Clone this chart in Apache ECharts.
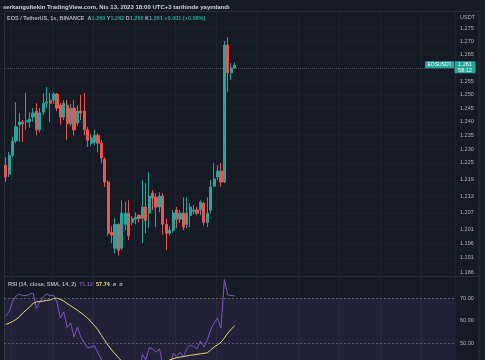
<!DOCTYPE html>
<html><head><meta charset="utf-8">
<script src="https://cdn.jsdelivr.net/npm/echarts@6/dist/echarts.min.js"></script>
<style>html,body{margin:0;padding:0;background:#161a25;}#c{width:485px;height:360px;}</style>
</head><body><div id="c"></div>
<script>
// ---- data ----
const OPEN = [1.2242,1.2210,1.2278,1.2330,1.2389,1.2400,1.2400,1.2400,1.2418,1.2440,1.2371,1.2436,1.2469,1.2480,1.2480,1.2503,1.2462,1.2418,1.2462,1.2393,1.2451,1.2396,1.2440,1.2440,1.2371,1.2322,1.2326,1.2351,1.2322,1.2264,1.2181,1.2000,1.1944,1.2029,1.1944,1.2029,1.2069,1.2036,1.2047,1.2061,1.2050,1.2091,1.2069,1.2141,1.2126,1.2091,1.2130,1.2029,1.1997,1.2008,1.2080,1.2047,1.2069,1.2029,1.2061,1.2076,1.2080,1.2080,1.2105,1.2036,1.2080,1.2166,1.2199,1.2220,1.2181,1.2686,1.2582,1.2600];
const CLOSE = [1.2199,1.2278,1.2330,1.2382,1.2400,1.2393,1.2404,1.2411,1.2433,1.2371,1.2433,1.2469,1.2473,1.2469,1.2503,1.2451,1.2418,1.2469,1.2393,1.2451,1.2371,1.2440,1.2433,1.2371,1.2333,1.2341,1.2351,1.2322,1.2268,1.2181,1.1997,1.1991,1.2029,1.1937,1.2069,1.2069,1.1988,1.2050,1.2054,1.2050,1.2091,1.2043,1.2130,1.2123,1.2091,1.2130,1.2029,1.1997,1.2008,1.2069,1.2047,1.2069,1.2019,1.2069,1.2091,1.2080,1.2069,1.2108,1.2036,1.2069,1.2163,1.2192,1.2220,1.2181,1.2686,1.2582,1.2600,1.2610];
const HIGH = [1.2271,1.2289,1.2344,1.2473,1.2433,1.2407,1.2507,1.2436,1.2451,1.2469,1.2451,1.2507,1.2529,1.2507,1.2510,1.2507,1.2469,1.2480,1.2480,1.2466,1.2480,1.2462,1.2500,1.2507,1.2382,1.2355,1.2371,1.2359,1.2333,1.2271,1.2188,1.2022,1.2050,1.2033,1.2115,1.2109,1.2115,1.2058,1.2072,1.2065,1.2188,1.2177,1.2216,1.2152,1.2141,1.2144,1.2141,1.2050,1.2022,1.2080,1.2091,1.2080,1.2126,1.2126,1.2105,1.2098,1.2091,1.2115,1.2109,1.2126,1.2188,1.2249,1.2242,1.2249,1.2701,1.2715,1.2618,1.2620];
const LOW = [1.2181,1.2199,1.2271,1.2322,1.2326,1.2326,1.2371,1.2378,1.2400,1.2351,1.2362,1.2425,1.2451,1.2400,1.2466,1.2440,1.2389,1.2407,1.2333,1.2385,1.2351,1.2385,1.2407,1.2351,1.2308,1.2311,1.2315,1.2289,1.2249,1.2163,1.1988,1.1962,1.1926,1.1918,1.1937,1.2008,1.1973,1.2025,1.2029,1.2036,1.1962,1.1997,1.2015,1.2080,1.2019,1.2072,1.1991,1.1937,1.1988,1.2000,1.2015,1.2033,1.2008,1.2015,1.2019,1.2065,1.2061,1.2061,1.2025,1.2019,1.2069,1.2163,1.2188,1.2163,1.2177,1.2510,1.2556,1.2600];
const RSI = [62,64,68.5,71,72,71.2,71.3,71.8,72.4,65.5,68.4,70.8,72,71.2,71.5,68.4,61.2,64,57,59,52.8,57.2,52.8,50,47.9,48.3,48.8,45.6,42.9,38,30,29.5,34,30.5,37,38,33.5,36,36.5,36,45,42.5,48,47.5,46,47.5,40.5,38,39,45.5,44,46,44,47.5,49.2,48.5,47.5,51,48.3,51.4,55.9,59,61.2,56.7,78.4,71.5,71.3,71.12];
const RSI_SMA = [58.4,58.9,59.7,60.6,61.8,63.5,64.8,66.2,67.7,68.5,68.6,68.8,69.1,69.3,69.9,70.1,69.6,68.8,67.7,66.7,65.7,64.7,63.6,62.4,61.2,59.5,57.8,56,53.5,51.3,49,47,45.3,43.5,42,40.8,39.8,39,38.4,38,37.9,38.1,38.6,39.2,39.9,40.6,41.3,41.9,42.5,43.1,43.5,43.8,44,44.3,44.6,44.8,45,45.3,45.5,45.7,47,48.3,49.3,50.4,52.3,54.5,56.3,57.74];
const PRICE_TICKS = [1.275,1.270,1.265,1.255,1.250,1.245,1.240,1.235,1.230,1.225,1.219,1.213,1.207,1.201,1.196,1.191,1.186];
const RSI_TICKS = [70,60,50];
const RSI_BANDS = [70,50,30];
const N_SLOTS = 132;
const CATEGORIES = Array.from({length: N_SLOTS}, (_, i) => 's' + i);
const LAST_PRICE = 1.261;
const COUNTDOWN = '58:12';

// ---- styles ----
const FONT = '"Liberation Sans", Arial, sans-serif';
const UP = '#26a69a', DOWN = '#ef5350';
const TXT = '#b2b5be', GRID_C = '#1f2431', HGRID_C = '#1b1f2b', FRAME = '#2a2e39';
const RSI_C = '#7e57c2', SMA_C = '#e9d97a';

const last = OPEN.length - 1;
const f3 = v => v.toFixed(3);
const chg = CLOSE[last] - CLOSE[last - 1];
const pct = chg / CLOSE[last - 1] * 100;
const sign = chg >= 0 ? '+' : '';
const candleData = OPEN.map((o, i) => [o, CLOSE[i], LOW[i], HIGH[i]]);

const chart = echarts.init(document.getElementById('c'), null, {renderer: 'canvas'});
const xSplit = { show: true, interval: (idx) => idx % 12 === 2, lineStyle: { color: GRID_C, width: 1 } };

const option = {
  animation: false,
  backgroundColor: '#161a25',
  textStyle: { fontFamily: FONT },
  title: [
    { left: 3, top: 4, padding: 0, text: '{b|serkangultekin} {n|TradingView.com, Nis 13, 2023 18:00 UTC+3 tarihinde yayınlandı}',
      textStyle: { fontSize: 6, color: '#d1d4dc', fontFamily: FONT,
        rich: { b: { fontSize: 6, fontWeight: 'bold', color: '#d1d4dc', fontFamily: FONT },
                n: { fontSize: 6, color: '#d1d4dc', fontFamily: FONT } } } },
    { left: 7, top: 15, padding: 0,
      text: '{g|EOS / TetherUS, 1s, BINANCE}  {g|A}{v|' + f3(OPEN[last]) + '} {g|Y}{v|' + f3(HIGH[last]) + '} {g|D}{v|' + f3(LOW[last]) + '} {g|K}{v|' + f3(CLOSE[last]) + '} {v|' + sign + f3(chg) + ' (' + sign + pct.toFixed(2) + '%)}',
      textStyle: { fontSize: 5.5, color: TXT, fontFamily: FONT,
        rich: { g: { fontSize: 5.5, color: TXT, fontFamily: FONT }, v: { fontSize: 5.5, color: UP, fontFamily: FONT } } } },
    { left: 460, top: 14, padding: 0, text: 'USDT', textStyle: { fontSize: 5.5, color: TXT, fontWeight: 'normal', fontFamily: FONT } },
    { left: 8, top: 281, padding: 0,
      text: '{g|RSI (14, close, SMA, 14, 2)}  {r|' + RSI[last].toFixed(2) + '}  {s|' + RSI_SMA[last].toFixed(2) + '}  {g|ø  ø}',
      textStyle: { fontSize: 5.5, color: TXT, fontFamily: FONT,
        rich: { g: { fontSize: 5.5, color: TXT, fontFamily: FONT }, r: { fontSize: 5.5, color: RSI_C, fontFamily: FONT }, s: { fontSize: 5.5, color: SMA_C, fontFamily: FONT } } } }
  ],
  grid: [
    { left: 4, right: 30, top: 12, height: 264 },
    { left: 4, right: 30, top: 276, height: 84 }
  ],
  xAxis: [
    { type: 'category', gridIndex: 0, data: CATEGORIES, boundaryGap: true,
      axisLine: { show: false }, axisTick: { show: false }, axisLabel: { show: false }, splitLine: xSplit },
    { type: 'category', gridIndex: 1, data: CATEGORIES, boundaryGap: true,
      axisLine: { show: false }, axisTick: { show: false }, axisLabel: { show: false }, splitLine: xSplit }
  ],
  yAxis: [
    { type: 'log', logBase: 10, gridIndex: 0, position: 'right', min: 1.1846, max: 1.2811,
      axisLine: { show: false },
      axisTick: { show: false, customValues: PRICE_TICKS },
      axisLabel: { customValues: PRICE_TICKS, formatter: v => Number(v).toFixed(3), color: TXT, fontSize: 5.5, margin: 5, fontFamily: FONT },
      splitLine: { show: true, lineStyle: { color: HGRID_C, width: 1 } } },
    { type: 'value', gridIndex: 1, position: 'right', min: 42.5, max: 80,
      axisLine: { show: false },
      axisTick: { show: false, customValues: RSI_TICKS },
      axisLabel: { customValues: RSI_TICKS, formatter: v => Number(v).toFixed(2), color: TXT, fontSize: 5.5, margin: 5, fontFamily: FONT },
      splitLine: { show: false } }
  ],
  series: [
    { type: 'candlestick', xAxisIndex: 0, yAxisIndex: 0, data: candleData, barWidth: '80%',
      itemStyle: { color: UP, color0: DOWN, borderColor: UP, borderColor0: DOWN, borderWidth: 1 },
      markLine: { silent: true, symbol: 'none', label: { show: false },
        lineStyle: { color: 'rgba(120,123,134,0.55)', type: 'dotted', width: 1 },
        data: [{ yAxis: LAST_PRICE }] } },
    { type: 'line', xAxisIndex: 1, yAxisIndex: 1, data: RSI, symbol: 'none', clip: true,
      lineStyle: { color: RSI_C, width: 1 }, itemStyle: { color: RSI_C },
      markArea: { silent: true, itemStyle: { color: 'rgba(126,87,194,0.12)' },
        data: [[{ yAxis: RSI_BANDS[0] }, { yAxis: RSI_BANDS[2] }]] },
      markLine: { silent: true, symbol: 'none', label: { show: false },
        lineStyle: { color: 'rgba(120,123,134,0.7)', type: [2, 2], width: 1 },
        data: RSI_BANDS.map(v => ({ yAxis: v })) } },
    { type: 'line', xAxisIndex: 1, yAxisIndex: 1, data: RSI_SMA, symbol: 'none', clip: true,
      lineStyle: { color: SMA_C, width: 1 }, itemStyle: { color: SMA_C } }
  ]
};
chart.setOption(option);

const py = chart.convertToPixel({ yAxisIndex: 0 }, LAST_PRICE);
chart.setOption({
  graphic: [
    { type: 'rect', silent: true, shape: { x: 4.5, y: 11.5, width: 474.5, height: 400 }, style: { fill: 'none', stroke: FRAME, lineWidth: 1 } },
    { type: 'line', silent: true, shape: { x1: 4.5, y1: 276.5, x2: 479, y2: 276.5 }, style: { stroke: FRAME, lineWidth: 1 } },
    { type: 'rect', silent: true, shape: { x: 425, y: py - 4, width: 29, height: 7, r: 1 }, style: { fill: UP } },
    { type: 'text', silent: true, x: 439.5, y: py - 0.5, style: { text: 'EOSUSDT', fill: '#ffffff', font: '5px ' + FONT, align: 'center', verticalAlign: 'middle' } },
    { type: 'rect', silent: true, shape: { x: 454.5, y: py - 4, width: 21, height: 12, r: 1 }, style: { fill: UP } },
    { type: 'text', silent: true, x: 465, y: py - 0.5, style: { text: f3(LAST_PRICE), fill: '#ffffff', font: '5.5px ' + FONT, align: 'center', verticalAlign: 'middle' } },
    { type: 'text', silent: true, x: 465, y: py + 4.8, style: { text: COUNTDOWN, fill: '#ffffff', font: '5.5px ' + FONT, align: 'center', verticalAlign: 'middle' } }
  ]
});
</script></body></html>
